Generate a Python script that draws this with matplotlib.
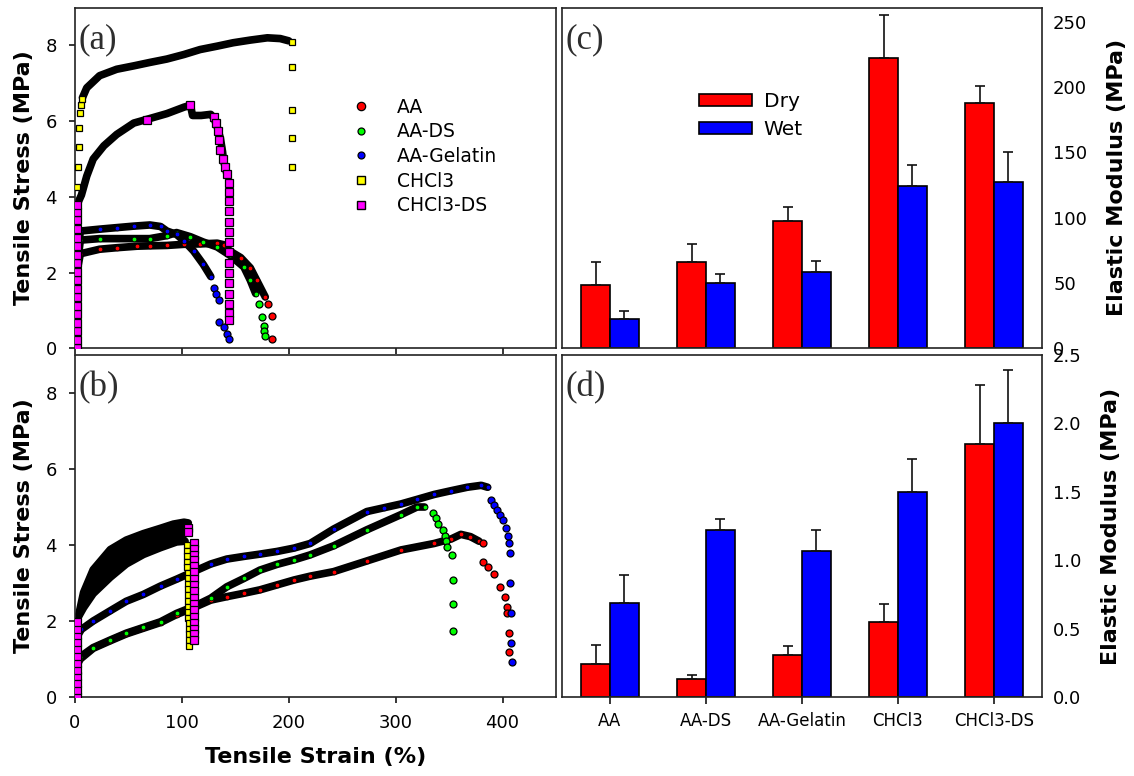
import numpy as np
import matplotlib
matplotlib.use('Agg')
import matplotlib.pyplot as plt
from matplotlib.lines import Line2D

# ---- stress-strain data, dry films (a) ----
# each sample: band points (dense black trace) and tail points (isolated markers)
aa_a_x = [1, 3, 5, 23, 39, 58, 70, 86, 102, 117, 133, 139, 145, 155, 164, 170, 178]
aa_a_y = [0.8, 2.2, 2.5, 2.62, 2.66, 2.7, 2.71, 2.72, 2.75, 2.76, 2.78, 2.74, 2.57, 2.4, 2.13, 1.8, 1.36]
aa_a_tx = [181, 184, 184]
aa_a_ty = [1.18, 0.87, 0.26]

aads_a_x = [1, 3, 5, 23, 55, 70, 86, 95, 108, 120, 133, 145, 158, 164, 169]
aads_a_y = [1.0, 2.4, 2.86, 2.9, 2.9, 2.9, 2.98, 3.06, 2.95, 2.81, 2.68, 2.46, 2.15, 1.8, 1.45]
aads_a_tx = [172, 175, 177, 177, 178]
aads_a_ty = [1.18, 0.83, 0.6, 0.45, 0.34]

aagel_a_x = [1, 3, 5, 23, 39, 55, 70, 80, 86, 95, 102, 111, 120, 127]
aagel_a_y = [1.2, 2.6, 3.1, 3.15, 3.19, 3.23, 3.26, 3.22, 3.1, 3.01, 2.84, 2.57, 2.22, 1.9]
aagel_a_tx = [130, 132, 135, 135, 139, 142, 144]
aagel_a_ty = [1.6, 1.45, 1.27, 0.7, 0.56, 0.39, 0.26]

chcl3_a_x = [7, 11, 23, 39, 55, 70, 86, 102, 117, 133, 148, 164, 180, 192, 200]
chcl3_a_y = [6.62, 6.88, 7.2, 7.37, 7.46, 7.55, 7.64, 7.76, 7.89, 7.98, 8.07, 8.14, 8.2, 8.18, 8.12]
chcl3_a_tx = [1.5, 2, 3, 4, 4, 5, 6, 7, 203, 203, 203, 203, 203]
chcl3_a_ty = [3.74, 4.27, 4.8, 5.33, 5.81, 6.21, 6.43, 6.58, 8.09, 7.44, 6.3, 5.56, 4.8]

chcl3ds_a_x = [2, 6, 11, 17, 27, 39, 55, 70, 86, 102, 108, 110, 118, 127, 130, 133, 136, 138, 139, 142]
chcl3ds_a_y = [3.8, 4.05, 4.55, 5.0, 5.35, 5.65, 5.95, 6.07, 6.2, 6.37, 6.42, 6.15, 6.15, 6.18, 6.08,
               5.85, 5.55, 5.2, 4.95, 4.62]
chcl3ds_a_tx = [1.5, 1.5, 1.5, 1.5, 1.5, 1.5, 1.5, 1.5, 1.5, 1.5, 1.5, 1.5, 1.5, 1.5, 1.5, 1.5, 1.5, 1.5,
                67, 108, 130, 132, 134, 135, 136, 138, 140, 142,
                144, 144, 144, 144, 144, 144, 144, 144, 144, 144, 144, 144, 144, 144, 144]
chcl3ds_a_ty = [0.0, 0.22, 0.45, 0.68, 0.9, 1.12, 1.35, 1.58, 1.8, 2.02, 2.25, 2.48, 2.7, 2.92, 3.15, 3.38, 3.6, 3.78,
                6.03, 6.42, 6.1, 5.95, 5.75, 5.5, 5.25, 5.0, 4.8, 4.6,
                4.36, 4.12, 3.9, 3.62, 3.35, 3.08, 2.8, 2.55, 2.25, 1.98, 1.72, 1.45, 1.18, 0.95, 0.75]

# ---- stress-strain data, wet films (b) ----
aa_b_x = [1, 5, 17, 33, 48, 64, 80, 95, 111, 127, 142, 158, 173, 189, 205, 220, 242, 273, 305, 336, 352,
          361, 370, 378]
aa_b_y = [0.8, 1.0, 1.28, 1.48, 1.66, 1.81, 1.96, 2.17, 2.35, 2.55, 2.64, 2.73, 2.82, 2.95, 3.08, 3.18, 3.3,
          3.58, 3.87, 4.04, 4.16, 4.28, 4.22, 4.1]
aa_b_tx = [382, 382, 386, 392, 398, 402, 404, 404, 406, 406]
aa_b_ty = [4.04, 3.56, 3.43, 3.25, 2.9, 2.64, 2.38, 2.2, 1.69, 1.19]

aads_b_x = [1, 5, 17, 33, 48, 64, 80, 95, 111, 127, 142, 158, 173, 189, 205, 220, 242, 273, 305, 320, 327]
aads_b_y = [0.85, 1.06, 1.3, 1.5, 1.68, 1.83, 1.98, 2.2, 2.38, 2.6, 2.9, 3.12, 3.34, 3.49, 3.61, 3.74, 3.98,
            4.4, 4.8, 5.0, 5.0]
aads_b_tx = [335, 338, 340, 344, 346, 347, 348, 353, 354, 354, 354]
aads_b_ty = [4.85, 4.7, 4.55, 4.4, 4.25, 4.1, 3.96, 3.74, 3.08, 2.46, 1.75]

aagel_b_x = [1, 6, 17, 33, 48, 64, 80, 95, 111, 127, 142, 158, 173, 189, 205, 220, 242, 273, 289, 305, 320,
             336, 352, 367, 380, 386]
aagel_b_y = [1.55, 1.78, 2.0, 2.27, 2.52, 2.7, 2.92, 3.1, 3.3, 3.5, 3.63, 3.7, 3.76, 3.83, 3.92, 4.04, 4.42,
             4.88, 4.98, 5.08, 5.2, 5.33, 5.43, 5.52, 5.57, 5.52]
aagel_b_tx = [389, 392, 395, 398, 400, 403, 405, 406, 407, 407, 408, 408, 409]
aagel_b_ty = [5.18, 5.05, 4.92, 4.78, 4.65, 4.45, 4.25, 4.04, 3.78, 2.99, 2.2, 1.41, 0.93]

chcl3_b_x = [3, 8, 17, 33, 48, 64, 80, 95, 103]
chcl3_b_y = [2.1, 2.35, 2.72, 3.15, 3.5, 3.75, 3.93, 4.08, 4.1]
chcl3_b_tx = [105, 105, 105, 105, 105, 106, 106, 106, 106, 106, 106, 106, 106, 106, 107, 107, 107, 107, 107]
chcl3_b_ty = [4.0, 3.85, 3.7, 3.56, 3.41, 3.27, 3.12, 2.97, 2.83, 2.68, 2.53, 2.38, 2.24, 2.09, 1.94, 1.8,
              1.65, 1.5, 1.35]

chcl3ds_b_x = [1, 3, 8, 17, 33, 48, 64, 80, 92, 102, 106]
chcl3ds_b_y = [1.9, 2.1, 2.75, 3.35, 3.88, 4.13, 4.3, 4.44, 4.55, 4.6, 4.58]
chcl3ds_b_tx = [1.5, 1.5, 1.5, 1.5, 1.5, 1.5, 1.5, 1.5, 1.5, 1.5, 1.5, 1.5,
                106, 106, 111, 111, 111, 111, 111, 111, 111, 111, 111, 111, 111, 111, 111, 111, 111, 111, 111]
chcl3ds_b_ty = [0.0, 0.18, 0.36, 0.54, 0.72, 0.9, 1.08, 1.26, 1.44, 1.62, 1.8, 1.98,
                4.45, 4.35, 4.05, 3.9, 3.75, 3.6, 3.45, 3.3, 3.1, 2.95, 2.8, 2.6, 2.45, 2.3, 2.1, 1.95,
                1.8, 1.65, 1.5]

# ---- elastic modulus ----
samples = ['AA', 'AA-DS', 'AA-Gelatin', 'CHCl3', 'CHCl3-DS']
dry_mod_c = [48, 66, 97, 222, 188]
dry_err_c = [18, 14, 11, 33, 13]
wet_mod_c = [22, 50, 58, 124, 127]
wet_err_c = [6, 7, 9, 16, 23]
dry_mod_d = [0.24, 0.13, 0.31, 0.55, 1.85]
dry_err_d = [0.14, 0.03, 0.06, 0.13, 0.43]
wet_mod_d = [0.69, 1.22, 1.07, 1.50, 2.00]
wet_err_d = [0.20, 0.08, 0.15, 0.24, 0.39]

W, H = 1134, 776
fig = plt.figure(figsize=(W / 100, H / 100), dpi=100)
plt.rcParams['font.family'] = 'DejaVu Sans'


def box(l, t, r, b):
    return [l / W, 1 - b / H, (r - l) / W, (b - t) / H]


ax_a = fig.add_axes(box(75, 7.5, 556, 348.5))
ax_b = fig.add_axes(box(75, 355, 556, 697))
ax_c = fig.add_axes(box(562, 7.5, 1042, 348))
ax_d = fig.add_axes(box(562, 355, 1042, 697))

for ax in (ax_a, ax_b, ax_c, ax_d):
    for s in ax.spines.values():
        s.set_linewidth(1.2)
        s.set_color('#222222')


def draw_curve(ax, bx, by, tx, ty, face, marker, dots=True, tail_ms=5.0):
    ax.plot(bx, by, '-', color='k', lw=5.5, solid_capstyle='round', solid_joinstyle='round', zorder=2)
    if dots:
        ax.plot(bx, by, ls='none', marker=marker, ms=3.4, mfc=face, mec='k', mew=0.6, zorder=4)
    ax.plot(tx, ty, ls='none', marker=marker, ms=tail_ms, mfc=face, mec='k', mew=0.9, zorder=5)


red, green, blue, yellow, magenta = '#ff0000', '#00ff00', '#0000ff', '#ffff00', '#ff00ff'

draw_curve(ax_a, aa_a_x, aa_a_y, aa_a_tx, aa_a_ty, red, 'o')
draw_curve(ax_a, aads_a_x, aads_a_y, aads_a_tx, aads_a_ty, green, 'o')
draw_curve(ax_a, aagel_a_x, aagel_a_y, aagel_a_tx, aagel_a_ty, blue, 'o')
draw_curve(ax_a, chcl3_a_x, chcl3_a_y, chcl3_a_tx, chcl3_a_ty, yellow, 's', dots=False, tail_ms=4.6)
draw_curve(ax_a, chcl3ds_a_x, chcl3ds_a_y, chcl3ds_a_tx, chcl3ds_a_ty, magenta, 's', dots=False, tail_ms=6.0)

# CHCl3 films in water: dense traces fill the wedge between them
ax_b.fill(np.r_[chcl3ds_b_x, chcl3_b_x[::-1]], np.r_[chcl3ds_b_y, chcl3_b_y[::-1]], color='k', zorder=2)
draw_curve(ax_b, aa_b_x, aa_b_y, aa_b_tx, aa_b_ty, red, 'o')
draw_curve(ax_b, aads_b_x, aads_b_y, aads_b_tx, aads_b_ty, green, 'o')
draw_curve(ax_b, aagel_b_x, aagel_b_y, aagel_b_tx, aagel_b_ty, blue, 'o')
draw_curve(ax_b, chcl3_b_x, chcl3_b_y, chcl3_b_tx, chcl3_b_ty, yellow, 's', dots=False, tail_ms=4.4)
draw_curve(ax_b, chcl3ds_b_x, chcl3ds_b_y, chcl3ds_b_tx, chcl3ds_b_ty, magenta, 's', dots=False, tail_ms=5.8)

for ax in (ax_a, ax_b):
    ax.set_xlim(0, 450)
    ax.set_ylim(0, 9)
    ax.set_xticks([0, 100, 200, 300, 400])
    ax.set_yticks([0, 2, 4, 6, 8])
    ax.tick_params(direction='out', length=4, width=1.1, labelsize=13, pad=9)
    ax.set_ylabel('Tensile Stress (MPa)', fontsize=16, fontweight='bold', labelpad=8)
ax_a.tick_params(axis='x', labelbottom=False)
ax_b.tick_params(axis='x', pad=8)
ax_b.set_xlabel('Tensile Strain (%)', fontsize=16, fontweight='bold', labelpad=11)

handles = [
    Line2D([], [], ls='none', marker='o', ms=6, mfc=red, mec='k', mew=0.9),
    Line2D([], [], ls='none', marker='o', ms=5, mfc=green, mec='k', mew=0.9),
    Line2D([], [], ls='none', marker='o', ms=5, mfc=blue, mec='k', mew=0.9),
    Line2D([], [], ls='none', marker='s', ms=5.5, mfc=yellow, mec='k', mew=1.0),
    Line2D([], [], ls='none', marker='s', ms=6, mfc=magenta, mec='k', mew=1.0),
]
ax_a.legend(handles, ['AA', 'AA-DS', 'AA-Gelatin', 'CHCl3', 'CHCl3-DS'], loc='upper left',
            bbox_to_anchor=(0.541, 0.785), frameon=False, fontsize=13.5, handlelength=1.0,
            handletextpad=1.4, labelspacing=0.3, borderpad=0.4)

# ---- bar panels ----
xpos = np.arange(len(samples))
bw = 0.3
for ax, dv, de, wv, we in ((ax_c, dry_mod_c, dry_err_c, wet_mod_c, wet_err_c),
                           (ax_d, dry_mod_d, dry_err_d, wet_mod_d, wet_err_d)):
    zeros = np.zeros(len(samples))
    ekw = dict(elinewidth=1.2, capthick=1.2, ecolor='#111111')
    ax.bar(xpos - bw / 2, dv, bw, color=red, edgecolor='k', linewidth=1.2,
           yerr=[zeros, de], capsize=3.5, error_kw=ekw, label='Dry')
    ax.bar(xpos + bw / 2, wv, bw, color=blue, edgecolor='k', linewidth=1.2,
           yerr=[zeros, we], capsize=3.5, error_kw=ekw, label='Wet')
    ax.set_xlim(-0.5, 4.5)
    ax.yaxis.tick_right()
    ax.yaxis.set_label_position('right')
    ax.tick_params(axis='y', length=0, labelsize=13, pad=8)
    ax.set_ylabel('Elastic Modulus (MPa)', fontsize=16, fontweight='bold', labelpad=14)

ax_c.set_ylim(0, 261)
ax_c.set_yticks([0, 50, 100, 150, 200, 250])
ax_c.set_xticks([])
ax_d.set_ylim(0, 2.5)
ax_d.set_yticks([0.0, 0.5, 1.0, 1.5, 2.0, 2.5])
ax_d.set_yticklabels(['0.0', '0.5', '1.0', '1.5', '2.0', '2.5'])
ax_d.set_xticks(xpos)
ax_d.set_xticklabels(samples, fontsize=12)
ax_d.tick_params(axis='x', direction='out', length=5, width=1.1, pad=6)

ax_c.legend(loc='upper left', bbox_to_anchor=(0.248, 0.805), frameon=False, fontsize=14.5,
            handlelength=2.6, handleheight=0.5, handletextpad=0.6, labelspacing=0.45, borderpad=0.4)

for ax, tag in ((ax_a, '(a)'), (ax_b, '(b)'), (ax_c, '(c)'), (ax_d, '(d)')):
    ax.text(0.008, 0.905, tag, transform=ax.transAxes, fontsize=25, family='Liberation Serif',
            color='#2e2e2e', ha='left', va='center', zorder=10)

fig.savefig('out.png', dpi=100)
